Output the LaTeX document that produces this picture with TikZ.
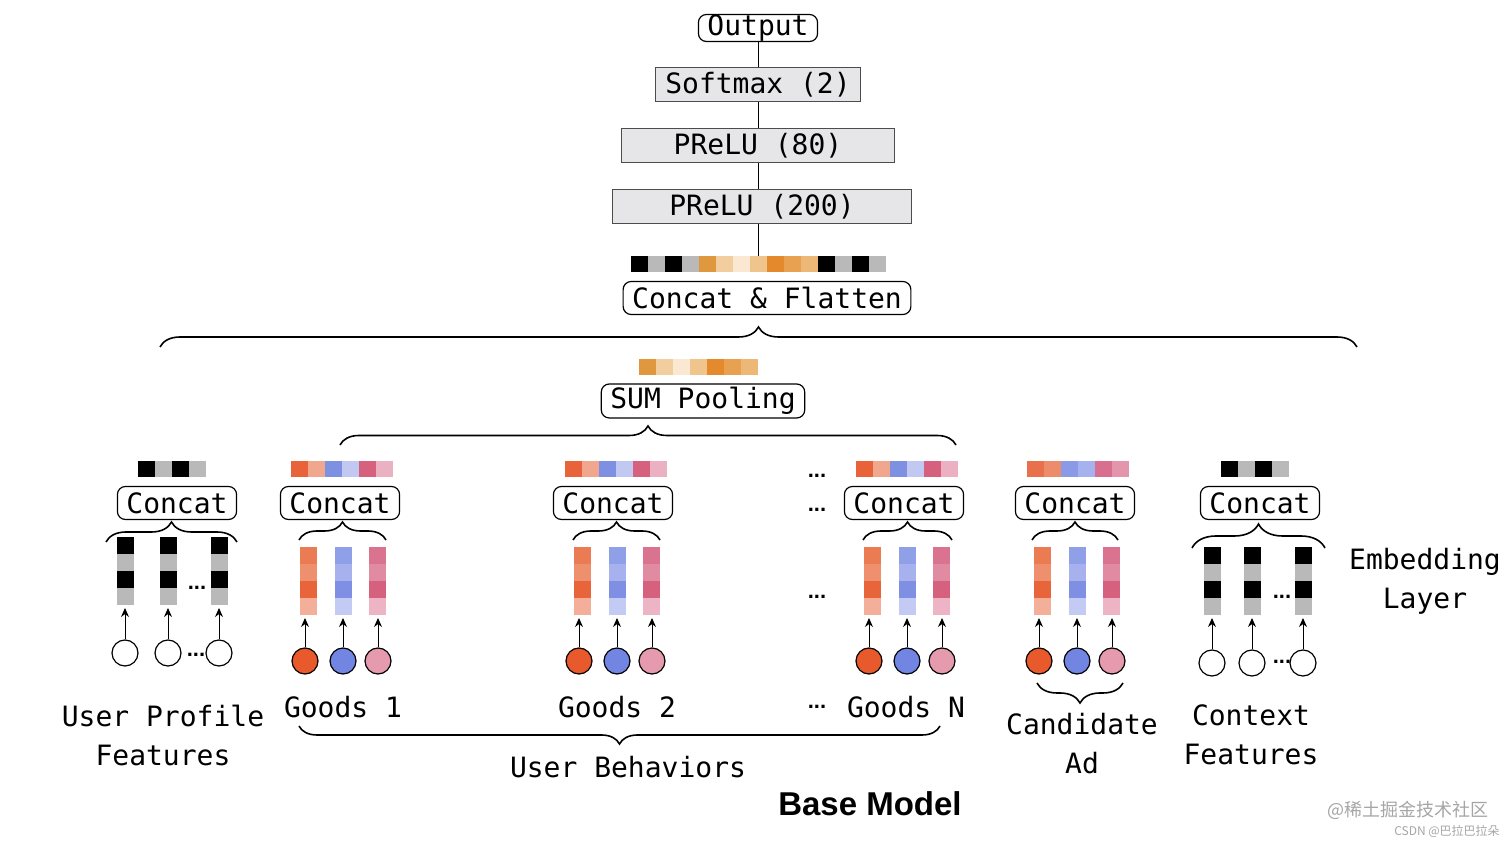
\documentclass[tikz,border=0pt]{standalone}
\usepackage{fontspec}
\setmonofont{DejaVu Sans Mono}
\setsansfont{Liberation Sans}
\newfontfamily\cjkfont{Noto Sans CJK SC}
\usetikzlibrary{positioning}
\usetikzlibrary{calc}
\usetikzlibrary{arrows.meta}
\usetikzlibrary{decorations.pathreplacing}

% cell colours
\definecolor{grayCell}{HTML}{B9B9B9}
\colorlet{bwA}{black}\colorlet{bwB}{grayCell}\colorlet{bwC}{black}\colorlet{bwD}{grayCell}
\definecolor{orgA}{HTML}{EB7B53}\definecolor{orgB}{HTML}{EE8F6E}
\definecolor{orgC}{HTML}{E8643B}\definecolor{orgD}{HTML}{F3AF99}
\definecolor{bluA}{HTML}{8F9FE8}\definecolor{bluB}{HTML}{A6B1EE}
\definecolor{bluC}{HTML}{7F90E4}\definecolor{bluD}{HTML}{C3CAF3}
\definecolor{pnkA}{HTML}{D9738F}\definecolor{pnkB}{HTML}{E18BA3}
\definecolor{pnkC}{HTML}{D6617F}\definecolor{pnkD}{HTML}{ECB4C4}
\definecolor{ballOrg}{HTML}{E85A2C}
\definecolor{ballBlu}{HTML}{7285E2}
\definecolor{ballPnk}{HTML}{E69AAE}
\definecolor{hgA}{HTML}{E8633A}\definecolor{hgB}{HTML}{F0A78D}
\definecolor{hgC}{HTML}{7E90E2}\definecolor{hgD}{HTML}{C1C9F2}
\definecolor{hgE}{HTML}{D6617F}\definecolor{hgF}{HTML}{EBB1C2}
\definecolor{hcA}{HTML}{E8704A}\definecolor{hcB}{HTML}{EC8C6A}
\definecolor{hcC}{HTML}{8A9AE6}\definecolor{hcD}{HTML}{A6B2EE}
\definecolor{hcE}{HTML}{D86F90}\definecolor{hcF}{HTML}{E395AB}
\definecolor{ocA}{HTML}{E0983E}\definecolor{ocB}{HTML}{F2CD9D}
\definecolor{ocC}{HTML}{FAE8D2}\definecolor{ocD}{HTML}{EFC48D}
\definecolor{ocE}{HTML}{E58A2C}\definecolor{ocF}{HTML}{E8A051}
\definecolor{ocG}{HTML}{EDB777}
\definecolor{boxGray}{HTML}{E6E6E9}

% horizontal vector: left x, top y, colours
\newcommand{\hvec}[3]{\foreach \c [count=\i from 0] in {#3} {\fill[\c] ({#1+17*\i},#2) rectangle +(17,16);}}
% embedding column: centre x, top y, colour prefix, name of bottom point
\newcommand{\embcol}[4]{%
  \fill[#3A] ({#1-8.5},#2) rectangle +(17,17);
  \fill[#3B] ({#1-8.5},{#2+17}) rectangle +(17,17);
  \fill[#3C] ({#1-8.5},{#2+34}) rectangle +(17,17);
  \fill[#3D] ({#1-8.5},{#2+51}) rectangle +(17,17);
  \coordinate (#4) at (#1,{#2+68});}

\begin{document}
\begin{tikzpicture}[x=0.5pt,y=-0.5pt,
		font=\ttfamily\fontsize{14}{19.5}\selectfont]
		\tikzset{lbox/.style={draw,rounded corners=4pt,line width=0.6pt,inner xsep=4.5pt,inner ysep=0pt,minimum height=16.5pt},
			gbox/.style={draw=black!70,fill=boxGray,line width=0.5pt,inner sep=0pt,minimum height=17pt},
			ball/.style={circle,draw,line width=0.6pt,minimum size=13pt,inner sep=0pt},
			feed/.style={-{Stealth[length=4.5pt,width=4pt]},line width=0.5pt,shorten >=1.5pt},
			curly/.style={decorate,decoration={brace,amplitude=#1},line width=0.8pt},
			dots/.style={font=\sffamily\bfseries\fontsize{11}{11}\selectfont,inner sep=0pt},
			lbl/.style={align=center,inner sep=0pt}}
		\fill[white] (0,0) rectangle (1512,844);
		\useasboundingbox (0,0) rectangle (1512,844);
		
		% top stack
		\node[lbox,minimum height=13.5pt] (out) at (758,28) {Output};
		\node[gbox,minimum width=102.5pt] (soft) [below=12.5pt of out] {Softmax (2)};
		\node[gbox,minimum width=136.5pt] (pr80) [below=13pt of soft] {PReLU (80)};
		\node[gbox,minimum width=149.5pt,xshift=2pt] (pr200) [below=13pt of pr80] {PReLU (200)};
		\coordinate (flat) at (758,256);
		\draw[line width=0.5pt] (out) -- (soft) -- (pr80) -- (pr200.north -| pr80);
		\draw[line width=0.5pt] (pr200.south -| flat) -- (flat);
		\hvec{631}{256}{black,grayCell,black,grayCell,ocA,ocB,ocC,ocD,ocE,ocF,ocG,black,grayCell,black,grayCell}
		\node[lbox] (flatbox) at (767,298) {Concat \& Flatten};
		\draw[curly=10pt] (160,347) -- (1357,347);
		
		% sum pooling
		\hvec{639}{359}{ocA,ocB,ocC,ocD,ocE,ocF,ocG}
		\node[lbox,minimum height=17pt] (sum) at (703,401) {SUM Pooling};
		\draw[curly=9.5pt] (340,445) -- (956,445);
		
		% concat layer
		\foreach \x/\n in {177/cUp,340/cA,613/cB,904/cN,1075/cAd,1260/cCtx}
		\node[lbox] (\n) at (\x,503) {Concat};
		\hvec{138}{461}{black,grayCell,black,grayCell}
		\hvec{291}{461}{hgA,hgB,hgC,hgD,hgE,hgF}
		\hvec{565}{461}{hgA,hgB,hgC,hgD,hgE,hgF}
		\hvec{856}{461}{hgA,hgB,hgC,hgD,hgE,hgF}
		\hvec{1027}{461}{hcA,hcB,hcC,hcD,hcE,hcF}
		\hvec{1221}{461}{black,grayCell,black,grayCell}
		\draw[curly=10pt] (106,542) -- (237,542);
		\draw[curly=9pt] (299,540) -- (386,540);
		\draw[curly=9pt] (573,540) -- (660,540);
		\draw[curly=9pt] (863,540) -- (952,540);
		\draw[curly=9pt] (1032,540) -- (1118,540);
		\draw[curly=12pt] (1192,548) -- (1325,548);
		
		% goods and candidate ad embeddings
		\foreach \bx/\g in {308/gA,582/gB,872/gN,1042/gAd} {
			\embcol{\bx}{547}{org}{\g1col}
			\embcol{\bx+35}{547}{blu}{\g2col}
			\embcol{\bx+69}{547}{pnk}{\g3col}
			\node[ball,fill=ballOrg] (\g1) at (\bx-3,661) {};
			\node[ball,fill=ballBlu] (\g2) at (\bx+35,661) {};
			\node[ball,fill=ballPnk] (\g3) at (\bx+70,661) {};
			\foreach \k in {1,2,3}
			\draw[feed] (\g\k) -- (\g\k |- \g\k col);
		}
		
		% user profile and context embeddings
		\foreach \ax/\bx/\cx/\ty/\g in {125/168/219/537/up,1212/1252/1303/547/ctx} {
			\embcol{\ax}{\ty}{bw}{\g1col}
			\embcol{\bx}{\ty}{bw}{\g2col}
			\embcol{\cx}{\ty}{bw}{\g3col}
			\node[ball] (\g1) at (\ax,\ty+116) {};
			\node[ball] (\g2) at (\bx,\ty+116) {};
			\node[ball] (\g3) at (\cx,\ty+116) {};
			\foreach \k in {1,2,3}
			\draw[feed] (\g\k) -- (\g\k |- \g\k col);
		}
		\node[dots] (upd1) at (197,588) {...};
		\node[dots] (upd2) at (196,655) {...};
		\node[dots] (ctxd1) at (1282,597) {...};
		\node[dots] (ctxd2) at (1282,662) {...};
		\node[dots] (gd1) at (817,476) {...};
		\node[dots] (gd2) at (817,510) {...};
		\node[dots] (gd3) at (817,597) {...};
		\node[dots] (gd4) at (817,707) {...};
		
		% labels
		\node[lbl] (upl) at (163,735) {User Profile\\Features};
		\node[lbl] (gAl) at (343,707) {Goods 1};
		\node[lbl] (gBl) at (617,707) {Goods 2};
		\node[lbl] (gNl) at (906,707) {Goods N};
		\draw[curly=9pt] (940,726) -- (299,726);
		\node[lbl] (behl) at (628,767) {User Behaviors};
		\draw[curly=10pt] (1123,683) -- (1037,683);
		\node[lbl] (adl) at (1082,744) {Candidate\\Ad};
		\node[lbl] (ctxl) at (1251,735) {Context\\Features};
		\node[lbl] (embl) at (1425,581) {Embedding\\Layer};
		\node[font=\sffamily\bfseries\fontsize{16.5}{18}\selectfont] (base) at (870,804) {Base Model};
		\node[text=black!35,font=\cjkfont\fontsize{9}{9}\selectfont] (wm) at (1408,810) {@稀土掘金技术社区};
		\node[text=black!35,font=\cjkfont\fontsize{6}{6}\selectfont] (wm2) at (1447,831) {CSDN @巴拉巴拉朵};
		
\end{tikzpicture}
\end{document}
